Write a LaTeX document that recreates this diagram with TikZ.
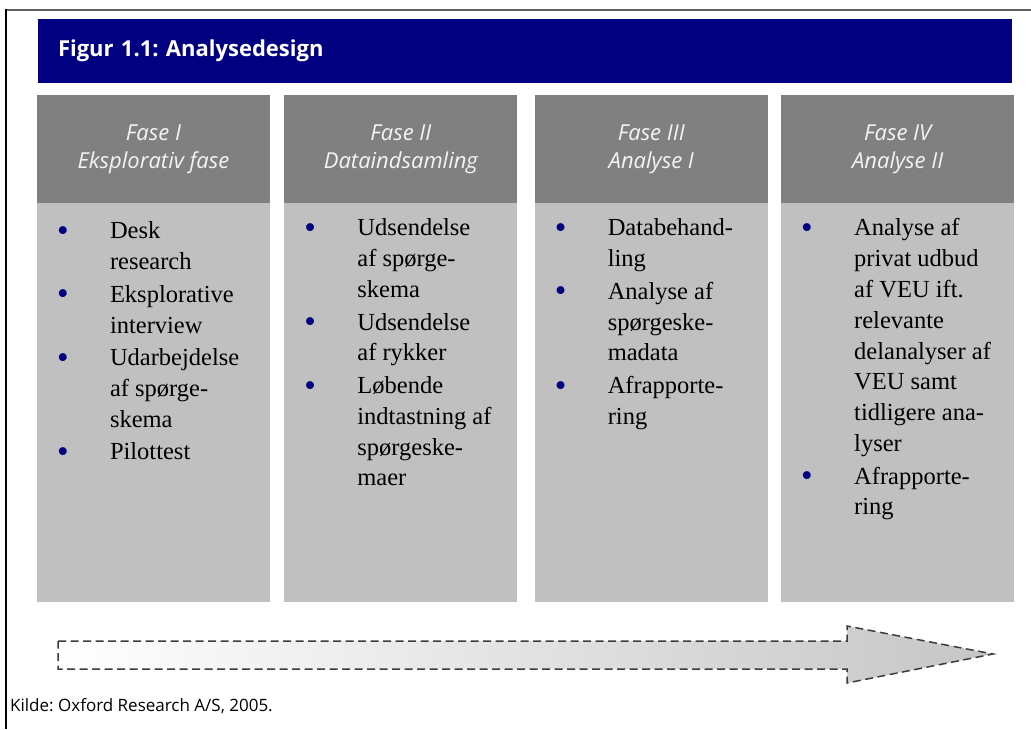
\documentclass[tikz,border=0pt]{standalone}
\usepackage{fontspec}
\setmainfont{Liberation Serif}
\setsansfont{Open Sans}
\usepackage{xcolor}
\definecolor{colorTitle}{RGB}{0,0,128}
\definecolor{colorHead}{RGB}{128,128,128}
\definecolor{colorBody}{RGB}{192,192,192}
\definecolor{colorHeadText}{RGB}{244,244,244}
\definecolor{colorDash}{RGB}{60,60,60}
\usetikzlibrary{positioning}
\frenchspacing
\newcommand{\fbul}{\raisebox{-2.5pt}{\textcolor{colorTitle}{\fontsize{33}{0}\selectfont\textbullet}}}
\tikzset{
  titlebar/.style={rectangle, fill=colorTitle, minimum width=974pt, minimum height=64pt, text width=934pt, inner xsep=20pt, align=left, text=white, font=\sffamily\bfseries\fontsize{22}{28}\selectfont},
  phasehead/.style={rectangle, fill=colorHead, minimum width=233pt, minimum height=108pt, inner sep=0pt, text=colorHeadText, align=center, font=\sffamily\itshape\fontsize{22}{28}\selectfont},
  phasebody/.style={rectangle, fill=colorBody, minimum width=233pt, minimum height=399pt, inner sep=0pt},
  items/.style={inner sep=0pt, font=\fontsize{24.5}{30.8}\selectfont},
  flowarrow/.style={draw=colorDash, line width=1.5pt, dash pattern=on 8pt off 4.5pt, left color=white, right color=gray!45}
}

\begin{document}
\begin{tikzpicture}[x=1pt, y=-1pt]
\useasboundingbox (0,0) rectangle (1031,729);
\draw[gray!75!black, line width=2.5pt] (6,10) -- (1031,10);
\draw[black, line width=1.5pt] (6,9) -- (6,729);

\node[titlebar] (title) at (525,51) {Figur 1.1: Analysedesign};

\node[phasehead] (fase1) at (153.5,149) {Fase I\\Eksplorativ fase};
\node[phasehead, right=14pt of fase1] (fase2) {Fase II\\Dataindsamling};
\node[phasehead, right=17pt of fase2] (fase3) {Fase III\\Analyse I};
\node[phasehead, right=13pt of fase3] (fase4) {Fase IV\\Analyse II};

\node[phasebody, below=0pt of fase1] (body1) {};
\node[phasebody, below=0pt of fase2] (body2) {};
\node[phasebody, below=0pt of fase3] (body3) {};
\node[phasebody, below=0pt of fase4] (body4) {};

\node[items, below right=14pt and 20pt of body1.north west] (items1) {%
\begin{tabular}{@{}p{53pt}@{}l@{}}
\fbul & Desk\\ & research\\[1.8pt]
\fbul & Eksplorative\\ & interview\\[1.8pt]
\fbul & Udarbejdelse\\ & af spørge-\\ & skema\\[1.8pt]
\fbul & Pilottest
\end{tabular}};
\node[items, below right=11pt and 20pt of body2.north west] (items2) {%
\begin{tabular}{@{}p{53pt}@{}l@{}}
\fbul & Udsendelse\\ & af spørge-\\ & skema\\[1.8pt]
\fbul & Udsendelse\\ & af rykker\\[1.8pt]
\fbul & Løbende\\ & indtastning af\\ & spørgeske-\\ & maer
\end{tabular}};
\node[items, below right=11pt and 20pt of body3.north west] (items3) {%
\begin{tabular}{@{}p{53pt}@{}l@{}}
\fbul & Databehand-\\ & ling\\[1.8pt]
\fbul & Analyse af\\ & spørgeske-\\ & madata\\[1.8pt]
\fbul & Afrapporte-\\ & ring
\end{tabular}};
\node[items, below right=11pt and 20pt of body4.north west] (items4) {%
\begin{tabular}{@{}p{53pt}@{}l@{}}
\fbul & Analyse af\\ & privat udbud\\ & af VEU ift.\\ & relevante\\ & delanalyser af\\ & VEU samt\\ & tidligere ana-\\ & lyser\\[1.8pt]
\fbul & Afrapporte-\\ & ring
\end{tabular}};

\draw[flowarrow] (58,641) -- (847,641) -- (847,626) -- (993,654) -- (847,683) -- (847,669) -- (58,669) -- cycle;

\node[anchor=base west, inner sep=0pt, font=\sffamily\fontsize{17}{20}\selectfont] (kilde) at (10,711) {Kilde: Oxford Research A/S, 2005.};
\end{tikzpicture}
\end{document}
